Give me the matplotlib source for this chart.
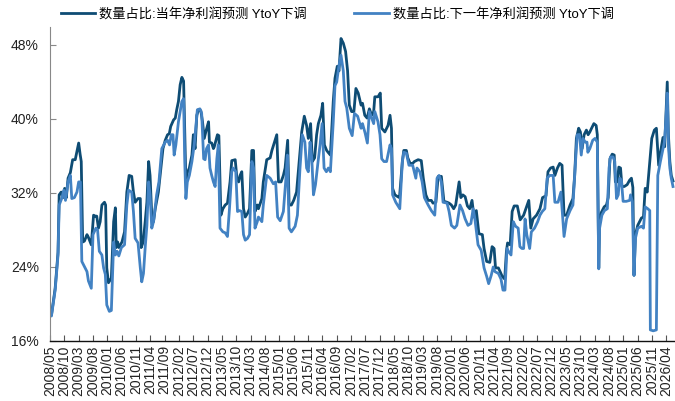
import pandas as pd
import matplotlib.pyplot as plt

# =========================
# DATA (months since 2008/05, share in %)
# =========================
t_cur = [0, 0.5, 1.8, 2.8, 3.2, 3.9, 4.5, 5.1, 5.7, 6.3, 7.1, 7.9, 8.8, 9.4, 10.0, 10.5, 10.9,
         11.4, 12.0, 12.9, 13.4, 14.4, 15.2, 15.8, 16.3, 16.9, 17.5, 18.1, 19.0, 19.4, 19.8, 20.4,
         21.4, 22.2, 22.8, 23.1, 23.6, 24.0, 25.1, 26.0, 26.8, 27.6, 28.5, 29.1, 29.7, 30.7, 31.5,
         31.8, 32.5, 33.2, 33.8, 34.4, 34.9, 35.5, 36.1, 36.7, 37.8, 38.4, 39.4, 40.2, 41.0, 41.6,
         42.1, 43.1, 43.7, 44.2, 44.8, 45.4, 46.0, 46.6, 46.9, 47.4, 47.9, 48.6, 49.5, 50.0, 50.6,
         51.2, 51.8, 52.6, 53.2, 53.8, 54.5, 55.3, 55.6, 56.4, 57.0, 57.3, 58.4, 58.9, 59.6, 60.3,
         61.1, 61.9, 62.8, 63.4, 64.6, 65.2, 65.8, 66.3, 66.9, 67.5, 68.1, 68.9, 69.6, 70.4, 71.0,
         71.5, 72.3, 72.7, 73.9, 74.4, 75.6, 76.8, 77.4, 78.3, 79.1, 79.7, 80.6, 81.4, 82.0, 82.9,
         83.4, 84.2, 85.0, 86.0, 86.9, 87.8, 88.7, 89.5, 90.1, 90.9, 91.5, 92.3, 93.0, 93.6, 94.5,
         95.1, 95.7, 96.5, 97.0, 97.8, 98.8, 99.4, 100.2, 100.8, 101.5, 102.3, 103.1, 103.8, 104.4,
         105.2, 106.0, 106.7, 107.5, 108.5, 109.0, 109.8, 110.6, 111.4, 112.2, 112.9, 113.3, 114.4,
         115.2, 115.7, 116.8, 117.9, 118.6, 119.1, 119.5, 120.3, 121.3, 121.9, 122.9, 123.4, 124.3,
         124.8, 125.6, 126.5, 127.1, 128.4, 129.5, 130.2, 131.1, 131.9, 133.0, 133.6, 134.6, 135.4,
         136.5, 137.4, 138.5, 139.2, 140.0, 140.8, 141.5, 142.7, 143.3, 144.0, 144.8, 145.6, 146.4,
         147.2, 147.9, 148.7, 149.6, 150.8, 151.4, 152.3, 153.4, 154.2, 154.9, 155.4, 156.4, 157.0,
         157.7, 158.6, 159.2, 159.6, 160.5, 161.2, 161.9, 163.0, 164.0, 165.2, 166.0, 167.0, 167.7,
         168.5, 169.7, 170.9, 171.8, 173.0, 173.7, 174.6, 175.5, 176.1, 177.0, 177.8, 178.6, 179.3,
         180.2, 181.4, 182.4, 183.0, 183.6, 184.4, 185.0, 185.6, 186.3, 187.1, 187.7, 188.3, 188.9,
         189.7, 190.5, 190.9, 191.4, 191.7, 192.3, 193.3, 194.1, 194.7, 195.3, 196.1, 196.8, 197.2,
         197.9, 198.4, 199.0, 199.5, 200.3, 201.3, 202.2, 202.8, 203.3, 203.7, 204.2, 205.0, 206.3,
         207.0, 207.6, 208.3, 209.0, 209.9, 210.8, 211.5, 212.3, 213.0, 213.8, 214.4, 215.3, 215.7,
         216.2, 216.7, 217.3]
v_cur = [19.2, 18.8, 21.7, 25.6, 31.8, 32.1, 31.5, 32.5, 31.5, 33.6, 34.2, 35.6, 35.6, 36.5, 37.4, 36.2, 35.4,
         26.7, 26.8, 27.5, 27.2, 26.4, 29.6, 29.5, 29.5, 28.2, 28.9, 30.7, 31.0, 30.7, 23.9, 22.3,
         22.8, 28.9, 30.4, 26.1, 26.7, 26.1, 26.7, 27.8, 32.1, 33.9, 33.8, 32.1, 31.0, 31.4, 31.4,
         26.1, 26.7, 28.9, 31.0, 35.4, 33.9, 29.6, 28.9, 30.3, 32.1, 33.9, 36.8, 37.7, 38.3, 38.4,
         39.2, 39.9, 40.1, 41.0, 41.9, 43.7, 44.5, 44.1, 40.1, 33.2, 34.2, 34.7, 36.1, 38.3, 36.8,
         40.4, 41.0, 40.9, 39.7, 37.9, 38.8, 39.7, 37.5, 37.4, 36.8, 37.0, 38.3, 38.2, 29.6, 30.3,
         30.7, 30.9, 33.2, 35.5, 35.6, 33.6, 33.2, 33.9, 34.3, 30.3, 29.4, 29.8, 30.3, 36.6, 36.6,
         30.0, 30.7, 30.3, 31.4, 33.2, 35.6, 35.8, 36.6, 37.5, 38.3, 33.2, 33.2, 33.9, 34.7, 37.7,
         30.7, 30.7, 31.2, 32.1, 35.4, 38.6, 40.3, 39.3, 37.9, 39.5, 35.4, 35.8, 38.3, 39.5, 40.4,
         41.7, 37.2, 36.6, 36.4, 36.1, 41.9, 44.4, 45.7, 45.2, 48.7, 48.2, 47.3, 45.2, 41.5,
         40.8, 40.8, 43.3, 42.8, 41.5, 41.7, 40.4, 40.1, 41.1, 40.4, 40.8, 42.4, 42.4,
         42.8, 39.0, 38.6, 39.3, 40.4, 39.0, 32.5, 31.8, 31.6, 31.5, 35.4, 36.6, 36.6,
         35.8, 35.2, 35.2, 35.4, 35.6, 35.5, 33.6, 31.8, 31.2, 31.2, 30.9, 31.0, 33.8,
         33.8, 31.1, 31.0, 30.9, 30.7, 30.3, 30.7, 33.2, 31.5, 31.8, 31.6, 30.6, 30.3,
         31.2, 29.4, 30.1, 27.6, 27.5, 26.0, 24.6, 24.5, 26.2, 26.0, 23.9, 23.9, 23.5,
         23.0, 22.7, 25.7, 26.6, 26.4, 30.0, 30.6, 30.6, 29.1, 29.6, 30.3, 31.2, 28.2,
         29.2, 29.6, 30.3, 31.5, 31.7, 34.3, 34.7, 34.8, 33.9, 34.7, 35.2, 35.0, 29.6,
         29.6, 30.7, 31.4, 33.9, 37.9, 39.0, 38.6, 36.8, 38.3, 38.8, 38.3, 38.6, 39.0,
         39.5, 39.3, 38.3, 23.9, 28.9, 29.9, 30.5, 30.7, 31.5, 35.7, 36.2, 36.1, 33.2,
         33.2, 34.8, 34.7, 32.7, 32.7, 32.9, 33.4, 33.6, 32.6, 23.1, 27.5, 28.5, 29.3,
         29.4, 32.5, 32.1, 34.7, 37.9, 38.8, 39.0, 35.0, 36.5, 38.0, 37.0, 44.0, 38.3,
         35.4, 33.9, 33.3]

t_next = [0, 0.5, 1.8, 2.8, 3.2, 4.2, 4.8, 5.4, 6.3, 7.1, 7.6, 8.5, 9.4, 10.0, 10.6, 11.1, 11.9,
          12.9, 13.4, 14.4, 15.0, 16.0, 16.6, 17.2, 18.1, 18.7, 19.3, 19.8, 20.7, 21.4, 22.2, 22.8,
          23.4, 24.0, 24.9, 26.0, 26.8, 27.4, 28.5, 29.1, 29.7, 30.7, 31.5, 32.0, 32.6, 33.2, 33.8,
          34.4, 34.9, 35.5, 36.1, 37.2, 38.0, 39.0, 40.2, 41.0, 41.7, 42.3, 42.9, 43.3, 43.9, 44.8,
          45.4, 46.0, 46.6, 47.0, 47.4, 47.9, 48.6, 49.5, 50.3, 51.0, 51.4, 52.3, 52.9, 53.6, 54.1,
          54.6, 55.3, 55.8, 56.4, 57.0, 57.6, 58.2, 58.7, 59.3, 60.3, 61.1, 61.9, 62.6, 63.4, 63.9,
          64.8, 65.4, 66.1, 66.9, 67.5, 68.1, 68.9, 69.6, 70.4, 71.0, 71.5, 72.3, 72.7, 73.9, 74.4,
          75.6, 76.8, 77.9, 78.7, 79.4, 80.3, 81.4, 82.2, 82.8, 83.4, 84.2, 85.5, 86.3, 87.2, 88.0,
          88.9, 89.5, 90.1, 90.7, 91.3, 91.9, 92.6, 93.5, 94.2, 94.9, 95.6, 96.4, 97.1, 97.8, 98.8,
          99.4, 100.0, 100.8, 101.5, 102.3, 102.9, 103.5, 104.4, 105.4, 106.2, 107.3, 108.5, 109.0,
          109.9, 110.7, 111.4, 112.2, 112.9, 113.3, 114.4, 115.1, 115.7, 116.5, 117.4, 118.6, 119.1,
          119.5, 120.6, 122.0, 122.9, 123.4, 124.3, 125.2, 126.5, 127.6, 128.0, 129.0, 129.8, 130.6,
          131.9, 133.0, 134.2, 135.0, 135.7, 136.5, 137.1, 138.5, 139.2, 140.0, 141.1, 141.9, 143.0,
          143.9, 144.8, 145.8, 146.8, 147.6, 148.2, 149.3, 150.4, 151.4, 152.3, 153.0, 153.9, 154.6,
          155.2, 156.4, 157.3, 158.0, 158.7, 159.4, 159.9, 160.8, 161.6, 162.4, 163.3, 163.9, 164.6,
          165.2, 165.7, 166.3, 167.3, 167.9, 169.0, 170.1, 170.9, 171.7, 172.6, 173.4, 174.3, 175.5,
          176.1, 177.2, 178.2, 179.3, 180.2, 181.4, 182.4, 183.3, 183.9, 184.7, 185.3, 185.9, 186.7,
          187.3, 187.6, 188.3, 189.3, 190.1, 190.9, 191.4, 191.7, 192.5, 193.4, 194.4, 195.0, 195.5,
          196.4, 197.0, 197.6, 198.2, 198.7, 199.3, 199.9, 201.0, 202.2, 202.5, 203.1, 203.7, 204.2,
          205.0, 206.3, 207.0, 207.6, 208.5, 209.2, 209.4, 210.4, 211.5, 212.0, 212.9, 214.3, 214.8,
          215.3, 215.7, 216.2, 216.7, 217.3]
v_next = [19.2, 18.7, 21.5, 25.3, 30.7, 31.5, 32.3, 31.2, 33.2, 33.9, 31.4, 31.5, 32.1, 33.2, 33.2, 24.6, 24.1,
          23.5, 22.5, 21.7, 27.5, 28.2, 28.0, 25.7, 25.3, 23.9, 23.2, 19.9, 19.2, 19.3, 26.7, 25.3,
          25.7, 25.2, 26.1, 26.4, 30.7, 32.3, 32.1, 30.0, 27.1, 26.6, 23.9, 22.4, 23.3, 26.1, 28.5,
          33.2, 31.8, 28.2, 28.9, 31.8, 33.2, 36.8, 37.5, 37.7, 37.2, 38.3, 38.3, 36.1, 37.2, 39.7,
          40.8, 41.9, 42.2, 35.4, 31.4, 33.2, 33.9, 35.4, 37.2, 39.7, 41.0, 41.1, 40.6, 35.7, 35.6,
          36.8, 37.2, 34.7, 33.9, 33.2, 32.7, 35.7, 37.2, 28.2, 27.8, 27.7, 27.3, 30.3, 34.3, 34.7,
          34.3, 30.0, 30.1, 30.0, 27.5, 26.9, 27.1, 27.5, 35.4, 34.7, 28.2, 28.9, 29.4, 28.9, 30.7,
          33.9, 33.6, 33.0, 33.2, 29.4, 29.0, 30.0, 33.2, 36.1, 28.2, 27.8, 28.4, 29.6, 34.7, 38.3,
          37.5, 34.7, 34.3, 37.5, 35.8, 31.8, 32.9, 35.4, 37.2, 39.5, 34.7, 34.3, 34.7, 34.3, 39.7,
          43.6, 44.0, 45.8, 46.9, 45.2, 41.9, 41.2, 39.0, 38.2, 40.6, 40.3, 39.0, 39.5,
          38.5, 37.4, 40.8, 40.1, 39.5, 40.8, 39.7, 38.3, 35.7, 35.4, 35.4, 37.2, 36.8,
          31.8, 31.0, 30.3, 35.4, 36.4, 36.3, 35.0, 35.0, 33.6, 34.7, 34.3, 33.2, 31.5,
          30.7, 30.1, 29.6, 33.6, 33.9, 33.2, 31.0, 30.9, 30.0, 28.5, 28.2, 28.5, 30.7,
          30.1, 29.2, 28.5, 28.7, 30.3, 29.2, 26.4, 25.8, 23.9, 23.0, 22.2, 23.1, 24.0,
          23.5, 23.3, 22.7, 21.5, 21.5, 26.0, 25.7, 25.3, 28.9, 28.4, 28.2, 26.2, 26.0,
          26.0, 29.2, 27.5, 26.0, 27.8, 28.2, 28.9, 29.6, 30.0, 30.3, 33.6, 33.9, 33.9,
          31.0, 31.0, 32.1, 27.3, 29.2, 30.1, 30.7, 35.4, 38.3, 38.3, 36.1, 37.9, 37.5,
          37.5, 36.4, 36.8, 37.7, 37.9, 37.5, 23.8, 28.2, 29.6, 30.1, 30.3, 34.7, 35.9,
          35.9, 35.4, 31.4, 31.8, 33.6, 33.4, 31.1, 31.1, 31.2, 31.8, 31.1, 23.1, 27.1,
          28.2, 28.4, 28.2, 30.5, 30.3, 30.1, 17.2, 17.1, 17.2, 33.9, 35.4, 37.5, 39.7,
          42.8, 37.2, 34.7, 33.6, 32.7]

series_names = ['数量占比:当年净利润预测 YtoY下调', '数量占比:下一年净利润预测 YtoY下调']
tick_dates = pd.date_range('2008-05-01', '2026-04-01', freq='5MS')
tick_labels = tick_dates.strftime('%Y/%m').tolist()
y_ticks = [16, 24, 32, 40, 48]

# =========================
# PLOT
# =========================
plt.rcParams['font.family'] = ['Liberation Sans', 'Noto Sans CJK SC']

fig = plt.figure(figsize=(6.75, 4.01), dpi=100)
ax = fig.add_axes([50 / 675, 60 / 401, 625 / 675, 314.5 / 401])

ax.plot(t_cur, v_cur, color='#0E4C74', linewidth=2.0, label=series_names[0], solid_joinstyle='round')
ax.plot(t_next, v_next, color='#4282C3', linewidth=2.0, label=series_names[1], solid_joinstyle='round')

ax.set_xlim(0, 218)
ax.set_ylim(16, 50)

tick_pos = [(d.year - 2008) * 12 + d.month - 5 for d in tick_dates]
ax.set_xticks(tick_pos)
ax.set_xticklabels(tick_labels, rotation=90, fontsize=10, color='#222222')
ax.set_yticks(y_ticks)
ax.set_yticklabels([f'{v}%' for v in y_ticks], fontsize=10, color='#222222')

ax.tick_params(axis='x', direction='in', length=4, width=0.8, color='#555555', pad=3)
ax.tick_params(axis='y', direction='in', length=4, width=0.8, color='#888888', pad=8)

for side in ['top', 'right']:
    ax.spines[side].set_visible(False)
ax.spines['left'].set_color('#888888')
ax.spines['bottom'].set_color('#111111')
ax.spines['bottom'].set_linewidth(1.0)

fig.legend(loc='upper left', bbox_to_anchor=(53 / 675, 1.0), ncol=2, frameon=False,
           fontsize=9.5, handlelength=2.6, columnspacing=3.6, handletextpad=0.3,
           borderaxespad=0.2)

fig.savefig('out.png', dpi=100)
